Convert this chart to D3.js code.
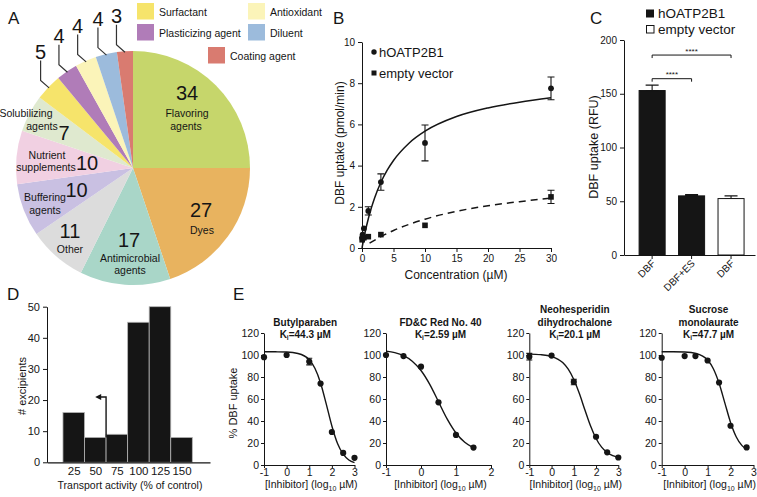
<!DOCTYPE html>
<html><head><meta charset="utf-8">
<script src="https://cdn.jsdelivr.net/npm/d3@7"></script>
<style>body{margin:0;background:#fff} svg{display:block;font-family:"Liberation Sans", Arial, sans-serif}</style>
</head><body><svg id="c" width="757" height="497"></svg>
<script>
// ---------------- DATA ----------------
// Panel A
const pieCategories = ["Flavoring agents","Dyes","Antimicrobial agents","Other","Buffering agents","Nutrient supplements","Solubilizing agents","Surfactant","Plasticizing agent","Antioxidant","Diluent","Coating agent"];
const pieValues = [34,27,17,11,10,10,7,5,4,4,4,3];
// Panel B
const bConc = [0.03,0.1,0.3,1,3,10,30];
const bHoatp = [0.5,0.65,0.95,1.8,3.2,5.1,7.75];
const bHoatpErr = [0.08,0.08,0.1,0.2,0.4,0.87,0.55];
const bEmpty = [0.4,0.5,0.5,0.55,0.65,1.1,2.48];
const bEmptyErr = [0.05,0.05,0.05,0.05,0.05,0.05,0.32];
const bFitHoatpX = [0,0.25,0.5,1,1.5,2,3,4,5,7.5,10,15,20,25,30];
const bFitHoatpY = [0,0.4,0.77,1.42,1.96,2.43,3.19,3.78,4.25,5.1,5.67,6.38,6.8,7.08,7.29];
const bFitEmptyX = [1.2,3,5,7.5,10,15,20,25,30];
const bFitEmptyY = [0.24,0.55,0.85,1.15,1.4,1.78,2.05,2.25,2.42];
const bXTicks = [0,5,10,15,20,25,30];
const bYTicks = [0,2,4,6,8,10];
// Panel C
const cLabels = ["DBF","DBF+ES","DBF"];
const cGroups = ["hOATP2B1","hOATP2B1","empty vector"];
const cValues = [153,55,52.5];
const cErr = [5,1.2,2.5];
const cYTicks = [0,50,100,150,200];
const cSig = [[0,1,164],[0,2,186]];
// Panel D
const dBins = [25,50,75,100,125,150];
const dCounts = [16,8,9,45,50,8];
const dYTicks = [0,10,20,30,40,50];
const dArrow = [62.5,8,21,51];
// Panel E
const eTitles = [["Butylparaben","44.3"],["FD&C Red No. 40","2.59"],["Neohesperidin dihydrochalone","20.1"],["Sucrose monolaurate","47.7"]];
const e1X = [-1,0,1,1.5,2,2.5,3];
const e1Y = [98,100,94,74,30,11,6.5];
const e1Err = [0,0,3,0,0,0,0];
const e1FitX = [-1,-0.5,0,0.5,1,1.25,1.5,1.75,2,2.25,2.5,2.75,3];
const e1FitY = [103,102.9,102.7,101.4,95.7,88,74.6,55.6,35.5,19.5,9.8,4.6,2.1];
const e2X = [-1,-0.5,0,0.5,1,1.5];
const e2Y = [100,99,89.4,57,27.3,15.8];
const e2Err = [0,0,0,0,0,0];
const e2FitX = [-1,-0.75,-0.5,-0.25,0,0.25,0.5,0.75,1,1.25,1.5];
const e2FitY = [103.5,102.1,99.4,94.4,85.9,73.3,57.5,41.7,29.1,20.6,15.6];
const e3X = [-1,0,1,2,2.5,3];
const e3Y = [98.5,99.5,75.5,25.7,11.5,6.8];
const e3Err = [3,0,2.5,0,0,0];
const e3FitX = [-1,-0.5,0,0.5,0.75,1,1.25,1.5,1.75,2,2.25,2.5,2.75,3];
const e3FitY = [100.8,100.3,98.6,93.1,87.1,77.7,64.9,50,35.6,24.1,16.2,11.3,8.5,6.9];
const e4X = [-1,0,0.47,1,1.5,2,2.7];
const e4Y = [97.5,99,99,95,75,35.7,16];
const e4Err = [0,0,0,0,0,0,0];
const e4FitX = [-1,-0.5,0,0.5,1,1.25,1.5,1.75,2,2.25,2.5,2.7];
const e4FitY = [103,103,102.7,101.4,95.4,87.5,74.3,56.5,38.7,25.5,17.6,14.2];
const eXTicks = [[-1,0,1,2,3],[-1,0,1,2],[-1,0,1,2,3],[-1,0,1,2,3]];
const eYTicks = [0,20,40,60,80,100,120];

// ---------------- STYLE / LAYOUT ----------------
const pieColors = ["#c6d66b","#e8b35f","#a9d6c8","#dcdcdc","#c9c0e2","#f1d0e2","#dfe9cf","#f6e46b","#b07cb8","#fbf4b9","#9cbbdc","#d97b70"];
const INK = "#151515";
const svg = d3.select("#c");
const fmt = d => (d<0 ? "-"+Math.abs(d) : String(d));

function styleAxis(g, fs){
  g.selectAll("path,line").attr("stroke",INK).attr("stroke-width",1);
  g.selectAll("text").attr("font-size",fs).attr("fill",INK).attr("font-family","Liberation Sans, Arial, sans-serif");
}
function letter(t,x,y){ svg.append("text").attr("x",x).attr("y",y).attr("font-size",17).attr("fill",INK).text(t); }

// ---------------- PANEL A ----------------
letter("A",8,23.5);
const pieCx=133, pieCy=168, pieR=117;
const pieData = d3.pie().sort(null).value(d=>d)(pieValues);
const arc = d3.arc().innerRadius(0).outerRadius(pieR);
const gA = svg.append("g").attr("transform",`translate(${pieCx},${pieCy})`);
gA.selectAll("path").data(pieData).join("path").attr("d",arc).attr("fill",(d,i)=>pieColors[i]);

const insideLayout = [
  {num:[187,100], lines:[[187,117],[186,130]]},
  {num:[201,217], lines:[[202,234]]},
  {num:[129,247], lines:[[130,262],[130,274]]},
  {num:[70,238], lines:[[70,253]]},
  {num:[76.5,197], lines:[[45,201],[45,214]]},
  {num:[87,170], lines:[[47,159],[46,171]]},
  {num:[64,140], lines:[[26,117],[42,130]]}
];
insideLayout.forEach((L,i)=>{
  svg.append("text").attr("x",L.num[0]).attr("y",L.num[1]).attr("text-anchor","middle").attr("font-size",20).attr("fill",INK).text(pieValues[i]);
  const words = pieCategories[i].split(" ");
  L.lines.forEach((p,j)=>{
    svg.append("text").attr("x",p[0]).attr("y",p[1]).attr("text-anchor","middle").attr("font-size",10.5).attr("fill",INK).text(words[j]);
  });
});
// leader lines for the small slices
pieData.forEach((d,i)=>{
  if(i<7) return;
  const a=(d.startAngle+d.endAngle)/2;
  const sx=pieCx+(pieR-1)*Math.sin(a), sy=pieCy-(pieR-1)*Math.cos(a);
  const mx=sx-8.5, my=sy-7.5, ty=my-20;
  svg.append("path").attr("d",`M${sx},${sy}L${mx},${my}L${mx},${ty}`).attr("fill","none").attr("stroke","#333").attr("stroke-width",1.2);
  svg.append("text").attr("x",mx).attr("y",ty-1.5).attr("text-anchor","middle").attr("font-size",20).attr("fill",INK).text(d.data);
});
// legend
const legA = [[7,137,3],[9,248,3],[8,137,24],[10,248,24],[11,208,47]];
legA.forEach(([i,x,y])=>{
  svg.append("rect").attr("x",x).attr("y",y).attr("width",17).attr("height",16.5).attr("fill",pieColors[i]);
  svg.append("text").attr("x",x+22).attr("y",y+12.5).attr("font-size",10.5).attr("fill",INK).text(pieCategories[i]);
});

// ---------------- PANEL B ----------------
letter("B",333,24);
const xB = d3.scaleLinear([0,30],[362,551]);
const yB = d3.scaleLinear([0,10],[248,42]);
styleAxis(svg.append("g").attr("transform","translate(0,248)").call(d3.axisBottom(xB).tickValues(bXTicks).tickFormat(fmt).tickSize(4).tickSizeOuter(0)),10);
styleAxis(svg.append("g").attr("transform","translate(362,0)").call(d3.axisLeft(yB).tickValues(bYTicks).tickFormat(fmt).tickSize(4).tickSizeOuter(0)),10);
const lineB = d3.line().curve(d3.curveMonotoneX);
svg.append("path").attr("d",lineB(bFitHoatpX.map((x,i)=>[xB(x),yB(bFitHoatpY[i])]))).attr("fill","none").attr("stroke",INK).attr("stroke-width",1.5);
svg.append("path").attr("d",lineB(bFitEmptyX.map((x,i)=>[xB(x),yB(bFitEmptyY[i])]))).attr("fill","none").attr("stroke",INK).attr("stroke-width",1.5).attr("stroke-dasharray","7,5");
function errBar(x,y0,y1,cap){
  svg.append("path").attr("d",`M${x},${y0}L${x},${y1}M${x-cap/2},${y0}L${x+cap/2},${y0}M${x-cap/2},${y1}L${x+cap/2},${y1}`).attr("stroke",INK).attr("stroke-width",1.1).attr("fill","none");
}
bConc.forEach((c,i)=>{
  if(bHoatpErr[i]>0.15) errBar(xB(c),yB(bHoatp[i]+bHoatpErr[i]),yB(bHoatp[i]-bHoatpErr[i]),7);
  if(bEmptyErr[i]>0.15) errBar(xB(c),yB(bEmpty[i]+bEmptyErr[i]),yB(bEmpty[i]-bEmptyErr[i]),7);
  svg.append("rect").attr("x",xB(c)-2.8).attr("y",yB(bEmpty[i])-2.8).attr("width",5.6).attr("height",5.6).attr("fill",INK);
  svg.append("circle").attr("cx",xB(c)).attr("cy",yB(bHoatp[i])).attr("r",2.9).attr("fill",INK);
});
svg.append("circle").attr("cx",374).attr("cy",52).attr("r",2.7).attr("fill",INK);
svg.append("text").attr("x",379).attr("y",56.5).attr("font-size",13).attr("fill",INK).text("hOATP2B1");
svg.append("rect").attr("x",371.5).attr("y",70.5).attr("width",5).attr("height",5).attr("fill",INK);
svg.append("text").attr("x",379).attr("y",77.5).attr("font-size",13).attr("fill",INK).text("empty vector");
svg.append("text").attr("transform","translate(343.5,143) rotate(-90)").attr("text-anchor","middle").attr("font-size",12).attr("fill",INK).text("DBF uptake (pmol/min)");
svg.append("text").attr("x",456).attr("y",279).attr("text-anchor","middle").attr("font-size",12).attr("fill",INK).text("Concentration (µM)");

// ---------------- PANEL C ----------------
letter("C",590,24);
const yC = d3.scaleLinear([0,200],[255,40]);
const xC = d3.scaleBand().domain(d3.range(cLabels.length)).range([624,755]).paddingInner(0.34).paddingOuter(0.33).align(0.58);
styleAxis(svg.append("g").attr("transform","translate(624,0)").call(d3.axisLeft(yC).tickValues(cYTicks).tickFormat(fmt).tickSize(4).tickSizeOuter(0)),10);
const axC = svg.append("g").attr("transform","translate(0,255)").call(d3.axisBottom(xC).tickFormat(i=>cLabels[i]).tickSize(4).tickSizeOuter(0));
styleAxis(axC,10);
axC.selectAll("text").attr("x",0).attr("y",0).attr("dy",0).attr("text-anchor","end").attr("transform","translate(4,9) rotate(-45)");
cValues.forEach((v,i)=>{
  const x=xC(i), w=xC.bandwidth(), cx=x+w/2;
  errBar(cx,yC(v+cErr[i]),yC(v),13);
  svg.append("rect").attr("x",x).attr("y",yC(v)).attr("width",w).attr("height",yC(0)-yC(v))
    .attr("fill",cGroups[i]==="hOATP2B1"?INK:"#fff").attr("stroke",INK).attr("stroke-width",1);
});
cSig.forEach(([a,b,v])=>{
  const x0=xC(a)+xC.bandwidth()/2, x1=xC(b)+xC.bandwidth()/2, y=yC(v);
  svg.append("path").attr("d",`M${x0},${y+3}L${x0},${y}L${x1},${y}L${x1},${y+3}`).attr("fill","none").attr("stroke",INK).attr("stroke-width",1);
  svg.append("text").attr("x",(x0+x1)/2).attr("y",y-1.5).attr("text-anchor","middle").attr("font-size",8).attr("fill",INK).text("****");
});
svg.append("rect").attr("x",646).attr("y",9.5).attr("width",8).attr("height",8).attr("fill",INK);
svg.append("text").attr("x",658).attr("y",18).attr("font-size",13.5).attr("fill",INK).text("hOATP2B1");
svg.append("rect").attr("x",646.5).attr("y",25.5).attr("width",7.5).attr("height",7.5).attr("fill","#fff").attr("stroke",INK).attr("stroke-width",1);
svg.append("text").attr("x",658).attr("y",34).attr("font-size",13.5).attr("fill",INK).text("empty vector");
svg.append("text").attr("transform","translate(598,147) rotate(-90)").attr("text-anchor","middle").attr("font-size",12.5).attr("fill",INK).text("DBF uptake (RFU)");

// ---------------- PANEL D ----------------
letter("D",7,300);
const xD = d3.scaleLinear([-6,183],[47,210]);
const yD = d3.scaleLinear([0,50],[462.3,306.7]);
dBins.forEach((b,i)=>{
  svg.append("rect").attr("x",xD(b-12.5)).attr("y",yD(dCounts[i])).attr("width",xD(b+12.5)-xD(b-12.5)).attr("height",yD(0)-yD(dCounts[i]))
    .attr("fill",INK).attr("stroke","#b5b5b5").attr("stroke-width",0.8);
});
styleAxis(svg.append("g").attr("transform","translate(47,0)").call(d3.axisLeft(yD).tickValues(dYTicks).tickFormat(fmt).tickSize(4).tickSizeOuter(0)),11);
const axD = svg.append("g").attr("transform","translate(0,462.3)").call(d3.axisBottom(xD).tickValues(dBins).tickFormat(fmt).tickSize(0).tickPadding(5).tickSizeOuter(0));
styleAxis(axD,11.5);
axD.select("path").attr("stroke-width",1.2);
{
  const [xa,y0,y1,xe]=dArrow;
  svg.append("path").attr("d",`M${xD(xa)},${yD(y0)}L${xD(xa)},${yD(y1)}L${xD(xe)+3},${yD(y1)}`).attr("fill","none").attr("stroke",INK).attr("stroke-width",1.4);
  const ax=xD(xe), ay=yD(y1);
  svg.append("path").attr("d",`M${ax-1},${ay}L${ax+5},${ay-3}L${ax+5},${ay+3}Z`).attr("fill",INK);
}
svg.append("text").attr("transform","translate(25.5,386) rotate(-90)").attr("text-anchor","middle").attr("font-size",11).attr("fill",INK).text("# excipients");
svg.append("text").attr("x",130).attr("y",489).attr("text-anchor","middle").attr("font-size",10.5).attr("fill",INK).text("Transport activity (% of control)");

// ---------------- PANEL E ----------------
letter("E",233,299.5);
const eRanges = [[264,354.5],[386,491],[529.3,618.3],[661.7,753.5]];
const eDomains = [[-1,3],[-1,2],[-1,3],[-1,3]];
const ePts = [[e1X,e1Y,e1Err,e1FitX,e1FitY],[e2X,e2Y,e2Err,e2FitX,e2FitY],[e3X,e3Y,e3Err,e3FitX,e3FitY],[e4X,e4Y,e4Err,e4FitX,e4FitY]];
const yE = d3.scaleLinear([0,120],[465,333]);
ePts.forEach((P,k)=>{
  const xE = d3.scaleLinear(eDomains[k],eRanges[k]);
  const [xs,ys,es,fx,fy]=P;
  styleAxis(svg.append("g").attr("transform",`translate(0,465)`).call(d3.axisBottom(xE).tickValues(eXTicks[k]).tickFormat(fmt).tickSize(3).tickPadding(1).tickSizeOuter(0)),10.5);
  styleAxis(svg.append("g").attr("transform",`translate(${eRanges[k][0]},0)`).call(d3.axisLeft(yE).tickValues(eYTicks).tickFormat(fmt).tickSize(3).tickPadding(2).tickSizeOuter(0)),10.5);
  svg.append("path").attr("d",d3.line().curve(d3.curveMonotoneX)(fx.map((x,i)=>[xE(x),yE(fy[i])]))).attr("fill","none").attr("stroke",INK).attr("stroke-width",1.4);
  xs.forEach((x,i)=>{
    if(es[i]>0) errBar(xE(x),yE(ys[i]+es[i]),yE(ys[i]-es[i]),6);
    svg.append("circle").attr("cx",xE(x)).attr("cy",yE(ys[i])).attr("r",3.1).attr("fill",INK);
  });
  const cx=(eRanges[k][0]+eRanges[k][1])/2 + (k===0?-4:k===1?2:1);
  const lines = (k===1) ? [eTitles[k][0]] : eTitles[k][0].split(" ");
  const n=lines.length+1;
  lines.forEach((t,j)=>{
    svg.append("text").attr("x",cx).attr("y",338-(n-1-j)*12.5).attr("text-anchor","middle").attr("font-size",10).attr("font-weight","bold").attr("fill",INK).text(t);
  });
  const kt = svg.append("text").attr("x",cx).attr("y",338).attr("text-anchor","middle").attr("font-size",10).attr("font-weight","bold").attr("fill",INK);
  kt.append("tspan").text("K");
  kt.append("tspan").attr("font-size",6.5).attr("dy",2).text("i");
  kt.append("tspan").attr("dy",-2).text("=" + eTitles[k][1] + " µM");
  const xt = svg.append("text").attr("x",(eRanges[k][0]+eRanges[k][1])/2+2).attr("y",488).attr("text-anchor","middle").attr("font-size",10.5).attr("fill",INK);
  xt.append("tspan").text("[Inhibitor] (log");
  xt.append("tspan").attr("font-size",7).attr("dy",2.5).text("10");
  xt.append("tspan").attr("dy",-2.5).text(" µM)");
});
svg.append("text").attr("transform","translate(237,403) rotate(-90)").attr("text-anchor","middle").attr("font-size",11).attr("fill",INK).text("% DBF uptake");
</script></body></html>
